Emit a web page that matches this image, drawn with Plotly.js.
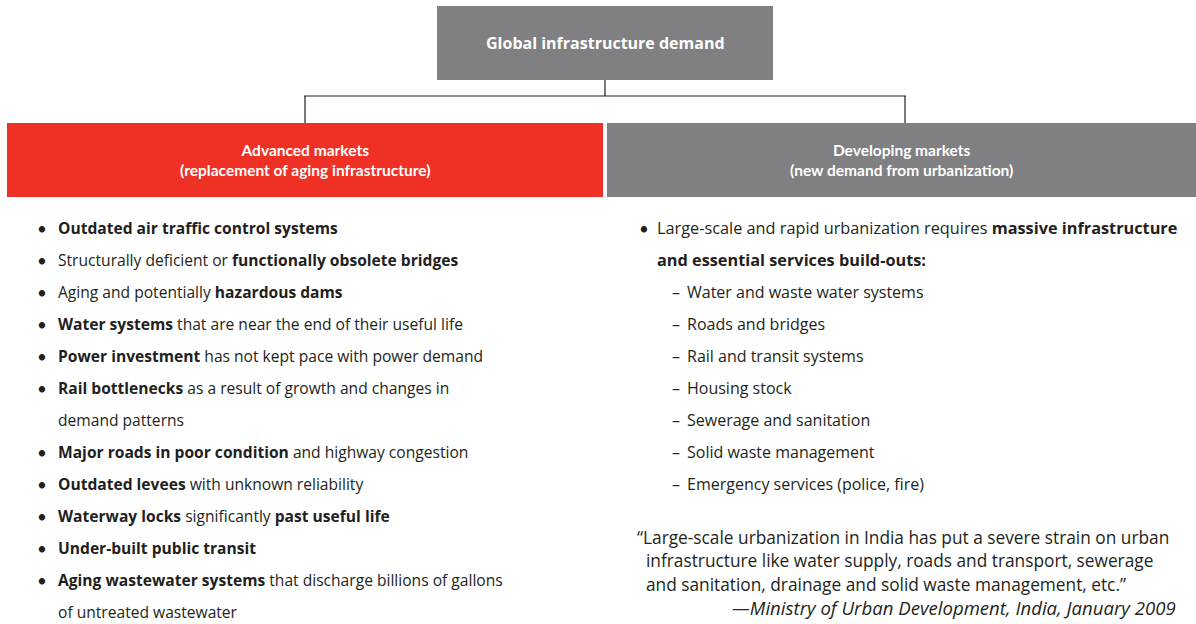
<!DOCTYPE html>
<html><head><meta charset="utf-8">
<script src="https://cdn.plot.ly/plotly-3.0.1.min.js"></script>
<style>body{margin:0;background:#fff}#c{width:1196px;height:624px}</style>
</head><body><div id="c"></div>
<script>
// Content
var topTitle = "Global infrastructure demand";
var boxTitles = ["Advanced markets<br>(replacement of aging infrastructure)", "Developing markets<br>(new demand from urbanization)"];
var leftItems = [
  ["<b>Outdated air traffic control systems</b>"],
  ["Structurally deficient or <b>functionally obsolete bridges</b>"],
  ["Aging and potentially <b>hazardous dams</b>"],
  ["<b>Water systems</b> that are near the end of their useful life"],
  ["<b>Power investment</b> has not kept pace with power demand"],
  ["<b>Rail bottlenecks</b> as a result of growth and changes in", "demand patterns"],
  ["<b>Major roads in poor condition</b> and highway congestion"],
  ["<b>Outdated levees</b> with unknown reliability"],
  ["<b>Waterway locks</b> significantly <b>past useful life</b>"],
  ["<b>Under-built public transit</b>"],
  ["<b>Aging wastewater systems</b> that discharge billions of gallons", "of untreated wastewater"]
];
var rightLead = ["Large-scale and rapid urbanization requires <b>massive infrastructure</b>", "<b>and essential services build-outs:</b>"];
var rightSubItems = ["Water and waste water systems", "Roads and bridges", "Rail and transit systems", "Housing stock", "Sewerage and sanitation", "Solid waste management", "Emergency services (police, fire)"];
var quoteLines = ["\u201cLarge-scale urbanization in India has put a severe strain on urban", "infrastructure like water supply, roads and transport, sewerage", "and sanitation, drainage and solid waste management, etc.\u201d"];
var quoteSource = "\u2014Ministry of Urban Development, India, January 2009";

var FONT = "'Open Sans', Lato, sans-serif";
var LATO = "Lato, 'Open Sans', sans-serif";
var TXT = "#231f20";
var GRAY = "#808083", RED = "#ee3124";

var shapes = [
  {type:"rect", x0:437, x1:773, y0:6, y1:80, fillcolor:GRAY, line:{width:0}},
  {type:"rect", x0:7, x1:603, y0:123, y1:197, fillcolor:RED, line:{width:0}},
  {type:"rect", x0:607, x1:1196, y0:123, y1:197, fillcolor:GRAY, line:{width:0}},
  {type:"line", x0:605, x1:605, y0:80, y1:96, line:{color:"#231f20", width:1.2}},
  {type:"line", x0:304, x1:906, y0:96, y1:96, line:{color:"#231f20", width:1.2}},
  {type:"line", x0:305, x1:305, y0:96, y1:123, line:{color:"#231f20", width:1.2}},
  {type:"line", x0:905, x1:905, y0:96, y1:123, line:{color:"#231f20", width:1.2}}
];

var ann = [];
function A(x, y, text, opts){
  var a = {x:x, y:y, xref:"x", yref:"y", text:text, showarrow:false, xanchor:"left", yanchor:"middle",
    font:{family:FONT, size:16, color:TXT}};
  for (var k in opts){ if(k==="font"){ for (var f in opts.font) a.font[f]=opts.font[f]; } else a[k]=opts[k]; }
  ann.push(a);
}
A(605, 43, "<b>"+topTitle+"</b>", {xanchor:"center", font:{color:"#fff", size:16}});
A(305, 160, "<b>"+boxTitles[0]+"</b>", {xanchor:"center", font:{family:LATO, color:"#fff", size:15.5}});
A(901, 160, "<b>"+boxTitles[1]+"</b>", {xanchor:"center", font:{family:LATO, color:"#fff", size:15.5}});

// Left list
var y = 228, step = 32;
leftItems.forEach(function(it){
  A(35, y, "\u2022", {font:{family:LATO, size:17}});
  it.forEach(function(line){ A(56, y, line, {font:{size:15.6}}); y += step; });
});

// Right list
y = 228;
A(637, y, "\u2022", {font:{family:LATO, size:17}});
rightLead.forEach(function(line){ A(655, y, line, {font:{size:16.3}}); y += step; });
y = 292;
rightSubItems.forEach(function(s){
  A(670, y, "\u2013", {});
  A(685, y, s, {});
  y += 32;
});

// Quote
var qy = [537, 560, 584];
A(635, qy[0], quoteLines[0], {font:{size:17.3}});
A(644, qy[1], quoteLines[1], {font:{size:17.3}});
A(644, qy[2], quoteLines[2], {font:{size:17.3}});
A(1178, 607, "<i>"+quoteSource+"</i>", {xanchor:"right", font:{size:18.6}});

var layout = {
  width:1196, height:624, margin:{l:0,r:0,t:0,b:0},
  paper_bgcolor:"#fff", plot_bgcolor:"#fff",
  xaxis:{range:[0,1196], visible:false, fixedrange:true},
  yaxis:{range:[624,0], visible:false, fixedrange:true},
  shapes:shapes, annotations:ann, showlegend:false
};
Plotly.newPlot("c", [{x:[0], y:[0], mode:"markers", marker:{opacity:0}, hoverinfo:"skip"}], layout, {staticPlot:true});
</script></body></html>
